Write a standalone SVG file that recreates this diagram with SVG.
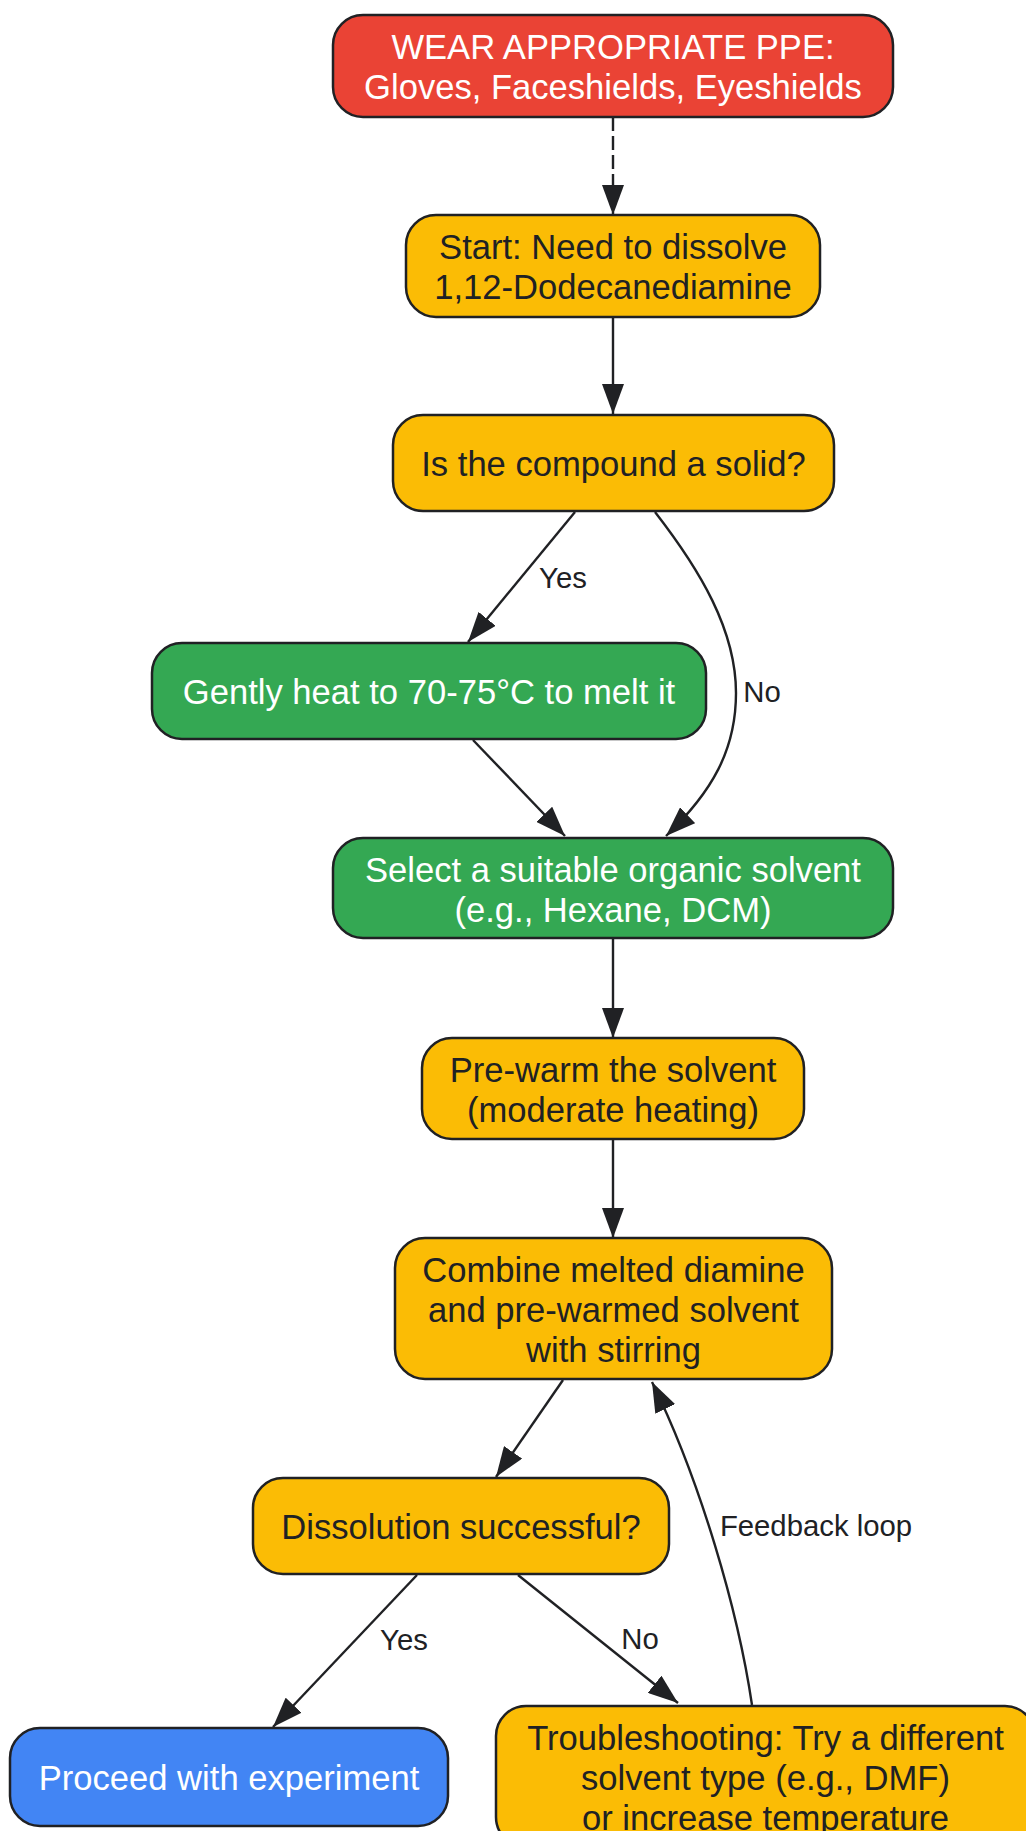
<svg xmlns="http://www.w3.org/2000/svg" width="1026" height="1831" viewBox="0 0 1026 1831">
<defs>
<style>
.n rect{stroke:#202124;stroke-width:2.5}
.red{fill:#EA4335}.yel{fill:#FBBC05}.grn{fill:#34A853}.blu{fill:#4285F4}
.t{font-family:"Liberation Sans",Arial,sans-serif;font-size:34.6px;text-anchor:middle}
.w{fill:#FFFFFF}.d{fill:#202124}
.e{fill:none;stroke:#202124;stroke-width:2.4}
.dash{stroke-dasharray:14,5}
.lb{font-family:"Liberation Sans",Arial,sans-serif;font-size:29.3px;fill:#202124;text-anchor:middle}
</style>
<marker id="ah" viewBox="0 0 30 22" refX="30" refY="11" markerWidth="30" markerHeight="22" markerUnits="userSpaceOnUse" orient="auto">
<path d="M0,0 L30,11 L0,22 z" fill="#202124"/>
</marker>
</defs>
<rect x="0" y="0" width="1026" height="1831" fill="#FFFFFF"/>
<g id="connectors">
<path class="e dash" d="M613,117 L613,215" marker-end="url(#ah)"/>
<path class="e" d="M613,317 L613,414" marker-end="url(#ah)"/>
<path class="e" d="M575,512 L468,642" marker-end="url(#ah)"/>
<path class="e" d="M655,512 C700,570 736,630 736,693 C736,750 712,792 666,836" marker-end="url(#ah)"/>
<path class="e" d="M473,740 L565,836" marker-end="url(#ah)"/>
<path class="e" d="M613,938 L613,1038" marker-end="url(#ah)"/>
<path class="e" d="M613,1139 L613,1238" marker-end="url(#ah)"/>
<path class="e" d="M563,1380 L496,1477" marker-end="url(#ah)"/>
<path class="e" d="M417,1575 L273,1727" marker-end="url(#ah)"/>
<path class="e" d="M518,1575 L678,1703" marker-end="url(#ah)"/>
<path class="e" d="M752,1705 C738,1610 700,1480 652,1382" marker-end="url(#ah)"/>
<text class="lb" x="563" y="588">Yes</text>
<text class="lb" x="762" y="702">No</text>
<text class="lb" x="404" y="1650">Yes</text>
<text class="lb" x="640" y="1649">No</text>
<text class="lb" x="816" y="1536">Feedback loop</text>
</g>
<g id="ppe" class="n"><rect class="red" x="333" y="15" width="560" height="102" rx="30"/>
<text class="t w" x="613" y="59">WEAR APPROPRIATE PPE:</text><text class="t w" x="613" y="99">Gloves, Faceshields, Eyeshields</text></g>
<g id="start" class="n"><rect class="yel" x="406" y="215" width="414" height="102" rx="30"/>
<text class="t d" x="613" y="259">Start: Need to dissolve</text><text class="t d" x="613" y="299">1,12-Dodecanediamine</text></g>
<g id="solid" class="n"><rect class="yel" x="393" y="415" width="441" height="96" rx="30"/>
<text class="t d" x="613.5" y="476">Is the compound a solid?</text></g>
<g id="heat" class="n"><rect class="grn" x="152" y="643" width="554" height="96" rx="30"/>
<text class="t w" x="429" y="704">Gently heat to 70-75°C to melt it</text></g>
<g id="select" class="n"><rect class="grn" x="333" y="838" width="560" height="100" rx="30"/>
<text class="t w" x="613" y="882">Select a suitable organic solvent</text><text class="t w" x="613" y="922">(e.g., Hexane, DCM)</text></g>
<g id="prewarm" class="n"><rect class="yel" x="422" y="1038" width="382" height="101" rx="30"/>
<text class="t d" x="613" y="1082">Pre-warm the solvent</text><text class="t d" x="613" y="1122">(moderate heating)</text></g>
<g id="combine" class="n"><rect class="yel" x="395" y="1238" width="437" height="141" rx="30"/>
<text class="t d" x="613.5" y="1282">Combine melted diamine</text><text class="t d" x="613.5" y="1322">and pre-warmed solvent</text><text class="t d" x="613.5" y="1362">with stirring</text></g>
<g id="dissolution" class="n"><rect class="yel" x="253" y="1478" width="416" height="96" rx="30"/>
<text class="t d" x="461" y="1539">Dissolution successful?</text></g>
<g id="proceed" class="n"><rect class="blu" x="10" y="1728" width="438" height="98" rx="30"/>
<text class="t w" x="229" y="1790">Proceed with experiment</text></g>
<g id="trouble" class="n"><rect class="yel" x="496" y="1706" width="539" height="141" rx="30"/>
<text class="t d" x="765.5" y="1750">Troubleshooting: Try a different</text><text class="t d" x="765.5" y="1790">solvent type (e.g., DMF)</text><text class="t d" x="765.5" y="1830">or increase temperature</text></g>
</svg>
